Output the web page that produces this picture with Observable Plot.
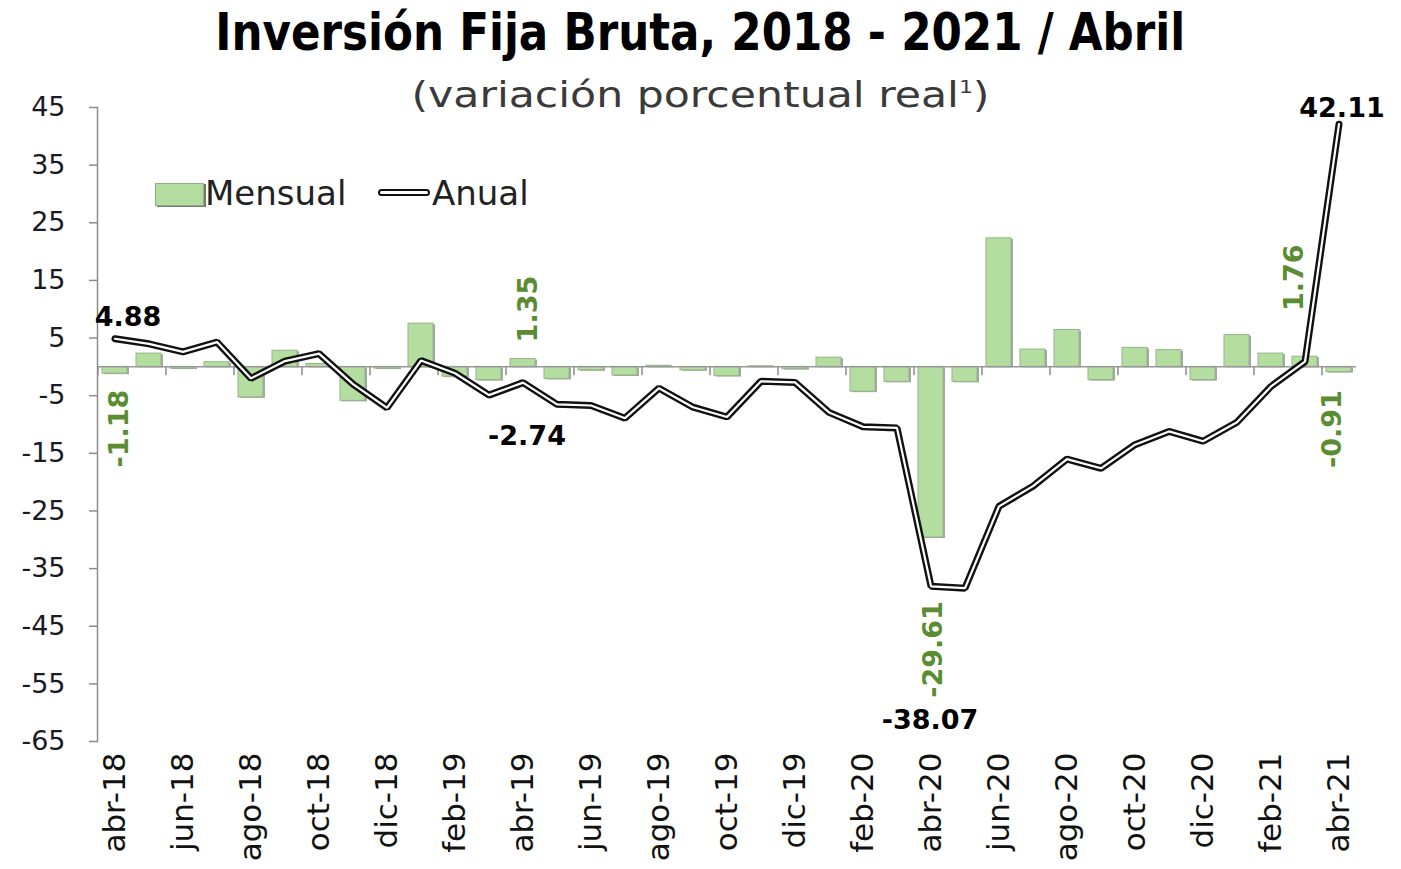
<!DOCTYPE html>
<html>
<head>
<meta charset="utf-8">
<script src="https://cdn.jsdelivr.net/npm/d3@7"></script>
<script src="https://cdn.jsdelivr.net/npm/@observablehq/plot@0.6"></script>
<style>
  body { margin: 0; background: #fff; }
  #wrap { position: relative; width: 1401px; height: 869px; overflow: hidden; font-family: "DejaVu Sans", sans-serif; }
  #chart { position: absolute; left: 0; top: 0; }
  .hdr { position: absolute; left: 0; width: 1401px; text-align: center; white-space: nowrap; z-index: 2; }
  .hdr span { display: inline-block; transform-origin: center; }
  #title { top: 2px; font-weight: bold; font-size: 52px; line-height: 60px; color: #000; }
  #subtitle { top: 62px; font-size: 35px; line-height: 50px; color: #3a3a3a; }
  #subtitle sup { font-size: 18px; vertical-align: 14px; }
  .leg { position: absolute; z-index: 2; font-size: 34px; line-height: 40px; color: #222; }
</style>
</head>
<body>
<div id="wrap">
  <div id="title" class="hdr"><span>Inversión Fija Bruta, 2018 - 2021 / Abril</span></div>
  <div id="subtitle" class="hdr"><span>(variación porcentual real<sup>1</sup>)</span></div>
  <div class="leg" style="left:155px;top:183px;width:47px;height:21px;background:#b4de9f;border:1px solid #8fae84;box-shadow:2px 1px 0 #777;"></div>
  <div class="leg" style="left:205px;top:173px;">Mensual</div>
  <div class="leg" style="left:378px;top:189px;width:48px;height:3px;background:#fff;border:2.5px solid #111;border-radius:4px;"></div>
  <div class="leg" style="left:432px;top:173px;">Anual</div>
  <div id="chart"></div>
</div>
<script>
const months = ["abr-18","may-18","jun-18","jul-18","ago-18","sep-18","oct-18","nov-18","dic-18","ene-19","feb-19","mar-19",
                "abr-19","may-19","jun-19","jul-19","ago-19","sep-19","oct-19","nov-19","dic-19","ene-20","feb-20","mar-20",
                "abr-20","may-20","jun-20","jul-20","ago-20","sep-20","oct-20","nov-20","dic-20","ene-21","feb-21","mar-21",
                "abr-21"];
const mensual = [-1.18, 2.3, -0.3, 0.8, -5.3, 2.8, 0.5, -5.9, -0.3, 7.5, -1.7, -2.3,
                 1.35, -2.1, -0.6, -1.5, 0.2, -0.6, -1.6, 0.1, -0.4, 1.6, -4.3, -2.6,
                 -29.61, -2.6, 22.3, 3.0, 6.4, -2.3, 3.3, 2.9, -2.3, 5.5, 2.3, 1.76,
                 -0.91];
const anual = [4.88, 4.0, 2.6, 4.3, -2.0, 1.0, 2.3, -3.0, -7.1, 1.1, -1.1, -4.9,
               -2.74, -6.5, -6.7, -8.9, -3.7, -7.0, -8.7, -2.5, -2.7, -7.9, -10.4, -10.6,
               -38.07, -38.4, -24.2, -20.7, -16.0, -17.6, -13.5, -11.2, -12.9, -9.6, -3.4, 0.9,
               42.11];
const yTicks = [45, 35, 25, 15, 5, -5, -15, -25, -35, -45, -55, -65];
const xTickLabels = months.filter((d, i) => i % 2 === 0);

const data = months.map((m, i) => ({month: m, mensual: mensual[i], anual: anual[i]}));

const W = 1401, H = 869, mL = 97, mR = 45, mT = 107, mB = 128;
const step = (W - mL - mR) / months.length;
const pxPerUnit = (H - mT - mB) / (45 - (-65));
const green = "#5a8c32";

const fmt = v => v.toFixed(2);
const blackLabel = (m, dx, dy) => Plot.text(data.filter(d => d.month === m), {
  x: "month", y: "anual", text: d => fmt(d.anual), dx, dy,
  fontSize: 27, fontWeight: "bold", fill: "#000"
});
const greenLabel = (m, dx, dy) => Plot.text(data.filter(d => d.month === m), {
  x: "month", y: "mensual", text: d => fmt(d.mensual), dx, dy, rotate: -90,
  fontSize: 27, fontWeight: "bold", fill: green
});

const chart = Plot.plot({
  width: W, height: H,
  marginTop: mT, marginBottom: mB, marginLeft: mL, marginRight: mR,
  style: {background: "transparent", overflow: "visible", fontFamily: "DejaVu Sans"},
  x: {type: "band", domain: months, paddingInner: 0.27, paddingOuter: 0.135, axis: null, label: null},
  y: {domain: [-65, 45], axis: null, label: null},
  marks: [
    Plot.axisY({ticks: yTicks, tickSize: 8, tickPadding: 24, tickFormat: d => String(d), label: null,
                fontSize: 27, stroke: "#8c8c8c", strokeWidth: 1.5, fill: "#1a1a24"}),
    Plot.frame({anchor: "left", stroke: "#8c8c8c", strokeWidth: 1.5}),
    Plot.axisX({ticks: xTickLabels, tickRotate: -90, tickSize: 0, tickPadding: 11, label: null,
                fontSize: 31, fill: "#111"}),
    Plot.barY(data, {x: "month", y: "mensual", fill: "#6a6a6a", opacity: 0.6, dx: 2, dy: 1}),
    Plot.barY(data, {x: "month", y: "mensual", fill: "#b4de9f", stroke: "#93b487", strokeWidth: 1}),
    Plot.ruleY([0], {stroke: "#999", strokeWidth: 1.5}),
    Plot.ruleX(xTickLabels, {x: d => d, y1: 0, y2: -9 / pxPerUnit, dx: -step / 2, stroke: "#8c8c8c", strokeWidth: 1.5}),
    Plot.line(data, {x: "month", y: "anual", stroke: "#111", strokeWidth: 7, strokeLinejoin: "miter"}),
    Plot.line(data, {x: "month", y: "anual", stroke: "#fff", strokeWidth: 2.2, strokeLinejoin: "miter"}),
    blackLabel("abr-18", 13, -21),
    blackLabel("abr-19", 4, 54),
    blackLabel("abr-20", -1, 134),
    blackLabel("abr-21", 3, -16),
    greenLabel("abr-18", 4, 55),
    greenLabel("abr-19", 5, -50),
    greenLabel("abr-20", 2, 112),
    greenLabel("mar-21", -11, -79),
    greenLabel("abr-21", -7, 57)
  ]
});
document.getElementById("chart").appendChild(chart);

function fitWidth(sel, target) {
  const el = document.querySelector(sel);
  const w = el.getBoundingClientRect().width;
  el.style.transform = `scaleX(${target / w})`;
}
fitWidth("#title span", 970);
fitWidth("#subtitle span", 578);
</script>
</body>
</html>
